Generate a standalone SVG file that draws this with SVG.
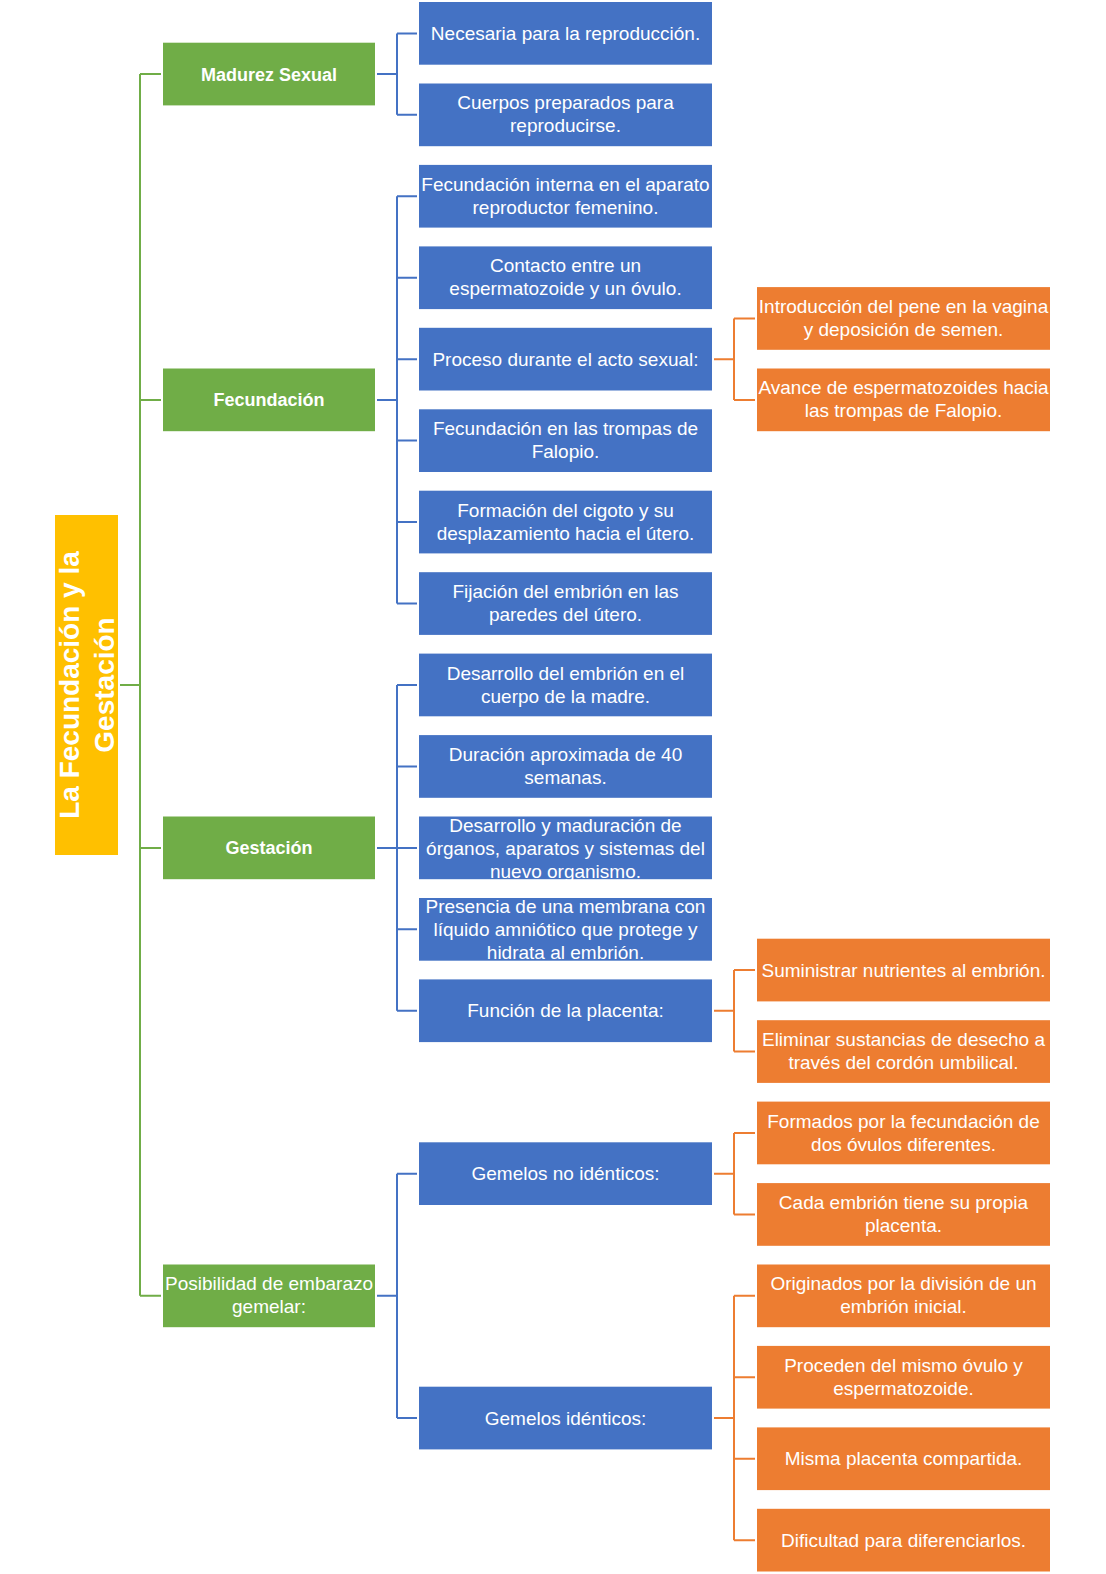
<svg xmlns="http://www.w3.org/2000/svg" width="1106" height="1574" viewBox="0 0 1106 1574">
<style>
.g{fill:#70AD47}.b{fill:#4472C4}.o{fill:#ED7D31}.r{fill:#FFC000}
text{font-family:"Liberation Sans",Arial,sans-serif;fill:#fff;text-anchor:middle;font-size:19px}
.bt{font-weight:bold;font-size:18px}
.rt{font-weight:bold;font-size:28px}
.cg{fill:none;stroke:#70AD47;stroke-width:2}
.cb{fill:none;stroke:#4472C4;stroke-width:2}
.co{fill:none;stroke:#ED7D31;stroke-width:2}
</style>
<rect width="1106" height="1574" fill="#fff"/>
<g id="connectors">
<path class="cg" d="M120 685 H140 M140 74.1 V1295.8 M140 74.1 H161 M140 399.9 H161 M140 847.9 H161 M140 1295.8 H161"/>
<path class="cb" d="M377 74.1 H397 M397 33.4 V114.8 M397 33.4 H417 M397 114.8 H417"/>
<path class="cb" d="M377 399.9 H397 M397 196.3 V603.5 M397 196.3 H417 M397 277.7 H417 M397 359.2 H417 M397 440.6 H417 M397 522.1 H417 M397 603.5 H417"/>
<path class="cb" d="M377 847.9 H397 M397 685 V1010.8 M397 685 H417 M397 766.4 H417 M397 847.9 H417 M397 929.3 H417 M397 1010.8 H417"/>
<path class="cb" d="M377 1295.8 H397 M397 1173.7 V1418 M397 1173.7 H417 M397 1418 H417"/>
<path class="co" d="M714 359.2 H734 M734 318.4 V399.9 M734 318.4 H755 M734 399.9 H755"/>
<path class="co" d="M714 1010.8 H734 M734 970 V1051.5 M734 970 H755 M734 1051.5 H755"/>
<path class="co" d="M714 1173.7 H734 M734 1133 V1214.4 M734 1133 H755 M734 1214.4 H755"/>
<path class="co" d="M714 1418 H734 M734 1295.8 V1540.2 M734 1295.8 H755 M734 1377.3 H755 M734 1458.7 H755 M734 1540.2 H755"/>
</g>
<g id="root">
<rect class="r" x="55" y="515" width="63" height="340"/>
<g transform="translate(86.5,685) rotate(-90)">
<text class="rt" x="0" y="-8">La Fecundación y la</text>
<text class="rt" x="0" y="27">Gestación</text>
</g>
</g>
<g id="madurez"><rect class="g" x="163" y="42.7" width="212" height="62.7"/><text class="bt" x="269" y="80.6">Madurez Sexual</text></g>
<g id="fecundacion"><rect class="g" x="163" y="368.5" width="212" height="62.7"/><text class="bt" x="269" y="406.4">Fecundación</text></g>
<g id="gestacion"><rect class="g" x="163" y="816.5" width="212" height="62.7"/><text class="bt" x="269" y="854.4">Gestación</text></g>
<g id="posibilidad"><rect class="g" x="163" y="1264.5" width="212" height="62.7"/><text x="269" y="1290.3">Posibilidad de embarazo</text><text x="269" y="1313.3">gemelar:</text></g>

<g id="b0"><rect class="b" x="419" y="2" width="293" height="62.7"/><text x="565.5" y="39.9">Necesaria para la reproducción.</text></g>
<g id="b1"><rect class="b" x="419" y="83.5" width="293" height="62.7"/><text x="565.5" y="109.3">Cuerpos preparados para</text><text x="565.5" y="132.3">reproducirse.</text></g>
<g id="b2"><rect class="b" x="419" y="164.9" width="293" height="62.7"/><text x="565.5" y="190.8">Fecundación interna en el aparato</text><text x="565.5" y="213.8">reproductor femenino.</text></g>
<g id="b3"><rect class="b" x="419" y="246.4" width="293" height="62.7"/><text x="565.5" y="272.2">Contacto entre un</text><text x="565.5" y="295.2">espermatozoide y un óvulo.</text></g>
<g id="b4"><rect class="b" x="419" y="327.8" width="293" height="62.7"/><text x="565.5" y="365.7">Proceso durante el acto sexual:</text></g>
<g id="b5"><rect class="b" x="419" y="409.3" width="293" height="62.7"/><text x="565.5" y="435.1">Fecundación en las trompas de</text><text x="565.5" y="458.1">Falopio.</text></g>
<g id="b6"><rect class="b" x="419" y="490.7" width="293" height="62.7"/><text x="565.5" y="516.6">Formación del cigoto y su</text><text x="565.5" y="539.6">desplazamiento hacia el útero.</text></g>
<g id="b7"><rect class="b" x="419" y="572.2" width="293" height="62.7"/><text x="565.5" y="598">Fijación del embrión en las</text><text x="565.5" y="621">paredes del útero.</text></g>
<g id="b8"><rect class="b" x="419" y="653.6" width="293" height="62.7"/><text x="565.5" y="679.5">Desarrollo del embrión en el</text><text x="565.5" y="702.5">cuerpo de la madre.</text></g>
<g id="b9"><rect class="b" x="419" y="735.1" width="293" height="62.7"/><text x="565.5" y="760.9">Duración aproximada de 40</text><text x="565.5" y="783.9">semanas.</text></g>
<g id="b10"><rect class="b" x="419" y="816.5" width="293" height="62.7"/><text x="565.5" y="831.9">Desarrollo y maduración de</text><text x="565.5" y="854.9">órganos, aparatos y sistemas del</text><text x="565.5" y="877.9">nuevo organismo.</text></g>
<g id="b11"><rect class="b" x="419" y="898" width="293" height="62.7"/><text x="565.5" y="913.3">Presencia de una membrana con</text><text x="565.5" y="936.3">líquido amniótico que protege y</text><text x="565.5" y="959.3">hidrata al embrión.</text></g>
<g id="b12"><rect class="b" x="419" y="979.4" width="293" height="62.7"/><text x="565.5" y="1017.3">Función de la placenta:</text></g>
<g id="b14"><rect class="b" x="419" y="1142.3" width="293" height="62.7"/><text x="565.5" y="1180.2">Gemelos no idénticos:</text></g>
<g id="b17"><rect class="b" x="419" y="1386.7" width="293" height="62.7"/><text x="565.5" y="1424.5">Gemelos idénticos:</text></g>

<g id="o1"><rect class="o" x="757" y="287.1" width="293" height="62.7"/><text x="903.5" y="312.9">Introducción del pene en la vagina</text><text x="903.5" y="335.9">y deposición de semen.</text></g>
<g id="o2"><rect class="o" x="757" y="368.5" width="293" height="62.7"/><text x="903.5" y="394.4">Avance de espermatozoides hacia</text><text x="903.5" y="417.4">las trompas de Falopio.</text></g>
<g id="o3"><rect class="o" x="757" y="938.7" width="293" height="62.7"/><text x="903.5" y="976.5">Suministrar nutrientes al embrión.</text></g>
<g id="o4"><rect class="o" x="757" y="1020.2" width="293" height="62.7"/><text x="903.5" y="1046">Eliminar sustancias de desecho a</text><text x="903.5" y="1069">través del cordón umbilical.</text></g>
<g id="o5"><rect class="o" x="757" y="1101.6" width="293" height="62.7"/><text x="903.5" y="1127.5">Formados por la fecundación de</text><text x="903.5" y="1150.5">dos óvulos diferentes.</text></g>
<g id="o6"><rect class="o" x="757" y="1183.1" width="293" height="62.7"/><text x="903.5" y="1208.9">Cada embrión tiene su propia</text><text x="903.5" y="1231.9">placenta.</text></g>
<g id="o7"><rect class="o" x="757" y="1264.5" width="293" height="62.7"/><text x="903.5" y="1290.3">Originados por la división de un</text><text x="903.5" y="1313.3">embrión inicial.</text></g>
<g id="o8"><rect class="o" x="757" y="1345.9" width="293" height="62.7"/><text x="903.5" y="1371.8">Proceden del mismo óvulo y</text><text x="903.5" y="1394.8">espermatozoide.</text></g>
<g id="o9"><rect class="o" x="757" y="1427.4" width="293" height="62.7"/><text x="903.5" y="1465.2">Misma placenta compartida.</text></g>
<g id="o10"><rect class="o" x="757" y="1508.8" width="293" height="62.7"/><text x="903.5" y="1546.7">Dificultad para diferenciarlos.</text></g>
</svg>
